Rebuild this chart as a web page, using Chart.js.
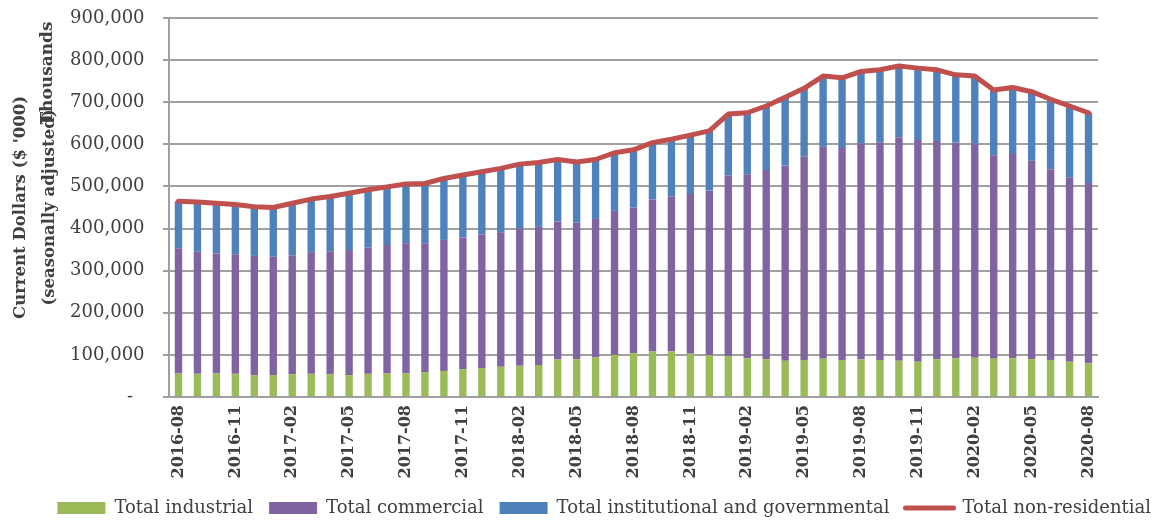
<!DOCTYPE html>
<html>
<head>
<meta charset="utf-8">
<script src="https://cdn.jsdelivr.net/npm/chart.js@4.4.1/dist/chart.umd.min.js"></script>
<style>
  body { margin: 0; background: #fff; }
  #wrap { width: 1157px; height: 520px; position: relative; }
</style>
</head>
<body>
<div id="wrap"><canvas id="myChart"></canvas></div>
<script>
const months = [
    '2016-08', '2016-09', '2016-10', '2016-11', '2016-12', '2017-01', '2017-02', '2017-03', '2017-04', '2017-05',
    '2017-06', '2017-07', '2017-08', '2017-09', '2017-10', '2017-11', '2017-12', '2018-01', '2018-02', '2018-03',
    '2018-04', '2018-05', '2018-06', '2018-07', '2018-08', '2018-09', '2018-10', '2018-11', '2018-12', '2019-01',
    '2019-02', '2019-03', '2019-04', '2019-05', '2019-06', '2019-07', '2019-08', '2019-09', '2019-10', '2019-11',
    '2019-12', '2020-01', '2020-02', '2020-03', '2020-04', '2020-05', '2020-06', '2020-07', '2020-08'
];

const industrial = [
    56000, 55000, 56000, 55000, 52000, 52000, 54000, 55000, 54000, 52000,
    55000, 56000, 56000, 59000, 62000, 66000, 69000, 72000, 74000, 76000,
    89000, 90000, 94000, 100000, 104000, 108000, 108000, 103000, 99000, 97000,
    92000, 90000, 86000, 88000, 91000, 88000, 89000, 88000, 86000, 84000,
    90000, 92000, 93000, 91000, 92000, 90000, 88000, 84000, 80000
];

const commercial = [
    297000, 290000, 285000, 284000, 283000, 281000, 282000, 289000, 292000, 297000,
    300000, 305000, 309000, 306000, 311000, 313000, 317000, 319000, 326000, 328000,
    328000, 324000, 329000, 342000, 346000, 361000, 368000, 379000, 391000, 429000,
    437000, 449000, 464000, 483000, 503000, 503000, 513000, 517000, 531000, 526000,
    518000, 512000, 509000, 483000, 485000, 471000, 453000, 437000, 428000
];

const institutional = [
    112000, 118000, 119000, 118000, 117000, 117000, 124000, 126000, 130000, 135000,
    137000, 138000, 141000, 142000, 146000, 148000, 149000, 152000, 153000, 153000,
    147000, 144000, 141000, 138000, 137000, 135000, 136000, 140000, 142000, 146000,
    146000, 152000, 162000, 162000, 168000, 167000, 171000, 172000, 169000, 171000,
    169000, 161000, 160000, 155000, 158000, 164000, 166000, 170000, 167000
];

const nonResidential = [
    465000, 463000, 460000, 457000, 452000, 450000, 460000, 470000, 476000, 484000,
    492000, 499000, 506000, 507000, 519000, 527000, 535000, 543000, 553000, 557000,
    564000, 558000, 564000, 580000, 587000, 604000, 612000, 622000, 632000, 672000,
    675000, 691000, 712000, 733000, 762000, 758000, 773000, 777000, 786000, 781000,
    777000, 765000, 762000, 729000, 735000, 725000, 707000, 691000, 675000
];

const yTicks = [0, 100000, 200000, 300000, 400000, 500000, 600000, 700000, 800000, 900000];

const txt = '#404040';
const gridCol = '#a0a0a0';
const serif = 'DejaVu Serif';

// "Thousands" display-unit label, drawn over the axis title like the original
const unitLabel = {
    id: 'unitLabel',
    afterDraw(chart) {
        const c = chart.ctx;
        c.save();
        c.translate(48, 73);
        c.rotate(-Math.PI / 2);
        c.font = 'bold 17px "' + serif + '"';
        c.fillStyle = txt;
        c.textAlign = 'center';
        c.textBaseline = 'middle';
        c.fillText('Thousands', 0, 0);
        c.restore();
    }
};

const ctx = document.getElementById('myChart');

var myChart = new Chart(ctx, {
    data: {
        labels: months,
        datasets: [{
            type: 'bar',
            label: 'Total industrial',
            data: industrial,
            backgroundColor: '#9bbb59',
            order: 1
        }, {
            type: 'bar',
            label: 'Total commercial',
            data: commercial,
            backgroundColor: '#8064a2',
            order: 1
        }, {
            type: 'bar',
            label: 'Total institutional and governmental',
            data: institutional,
            backgroundColor: '#4f81bd',
            order: 1
        }, {
            type: 'line',
            label: 'Total non-residential',
            data: nonResidential,
            borderColor: '#c0504d',
            backgroundColor: '#c0504d',
            borderWidth: 5,
            pointRadius: 0,
            tension: 0,
            borderJoinStyle: 'round',
            borderCapStyle: 'round',
            order: 0
        }]
    },
    options: {
        responsive: true,
        maintainAspectRatio: false,
        animation: false,
        layout: { padding: { top: 18, right: -10, bottom: -7, left: 0 } },
        datasets: {
            bar: { barPercentage: 0.39, categoryPercentage: 1 }
        },
        scales: {
            x: {
                stacked: true,
                grid: { display: false, drawTicks: false },
                border: { display: true, color: gridCol, width: 2 },
                ticks: {
                    autoSkip: false,
                    maxRotation: 90,
                    minRotation: 90,
                    padding: 8,
                    color: txt,
                    font: { family: serif, size: 16, weight: 'bold' },
                    callback: function (val, i) {
                        return i % 3 === 0 ? months[i] : null;
                    }
                },
                afterFit: function (s) { s.height = 86; }
            },
            y: {
                stacked: true,
                min: 0,
                max: 900000,
                afterBuildTicks: function (s) {
                    s.ticks = yTicks.map(v => ({ value: v }));
                },
                grid: { color: gridCol, lineWidth: 2, tickLength: 6 },
                border: { display: true, color: gridCol, width: 2 },
                ticks: {
                    // small padding keeps the plot top at 18px; trailing spaces push labels left
                    padding: 7,
                    color: txt,
                    font: { family: serif, size: 18 },
                    callback: function (v) {
                        return v === 0 ? '-    ' : v.toLocaleString('en-US') + '  ';
                    }
                },
                title: {
                    display: true,
                    text: ["Current Dollars ($ '000)", '(seasonally adjusted)'],
                    color: txt,
                    font: { family: serif, size: 16.5, weight: 'bold', lineHeight: 1.75 },
                    padding: { top: 6, bottom: 0 }
                },
                afterFit: function (s) { s.width = 169; }
            },
            y2: {
                position: 'right',
                display: true,
                grid: { display: false, drawTicks: false },
                border: { display: false },
                ticks: { display: false },
                afterFit: function (s) { s.width = 69; }
            }
        },
        plugins: {
            tooltip: { enabled: false },
            legend: {
                position: 'bottom',
                align: 'end',
                labels: {
                    color: txt,
                    font: { family: serif, size: 18 },
                    usePointStyle: true,
                    pointStyleWidth: 48,
                    boxHeight: 12,
                    padding: 16,
                    sort: (a, b) => a.datasetIndex - b.datasetIndex,
                    generateLabels: function (chart) {
                        const items = Chart.defaults.plugins.legend.labels.generateLabels(chart);
                        items.forEach(function (it) {
                            if (it.datasetIndex === 3) {
                                it.pointStyle = 'line';
                                it.lineWidth = 5;
                                it.lineCap = 'round';
                                it.strokeStyle = '#c0504d';
                            } else {
                                it.pointStyle = 'rect';
                                it.lineWidth = 0;
                            }
                        });
                        return items;
                    }
                }
            }
        }
    },
    plugins: [unitLabel]
});
</script>
</body>
</html>
